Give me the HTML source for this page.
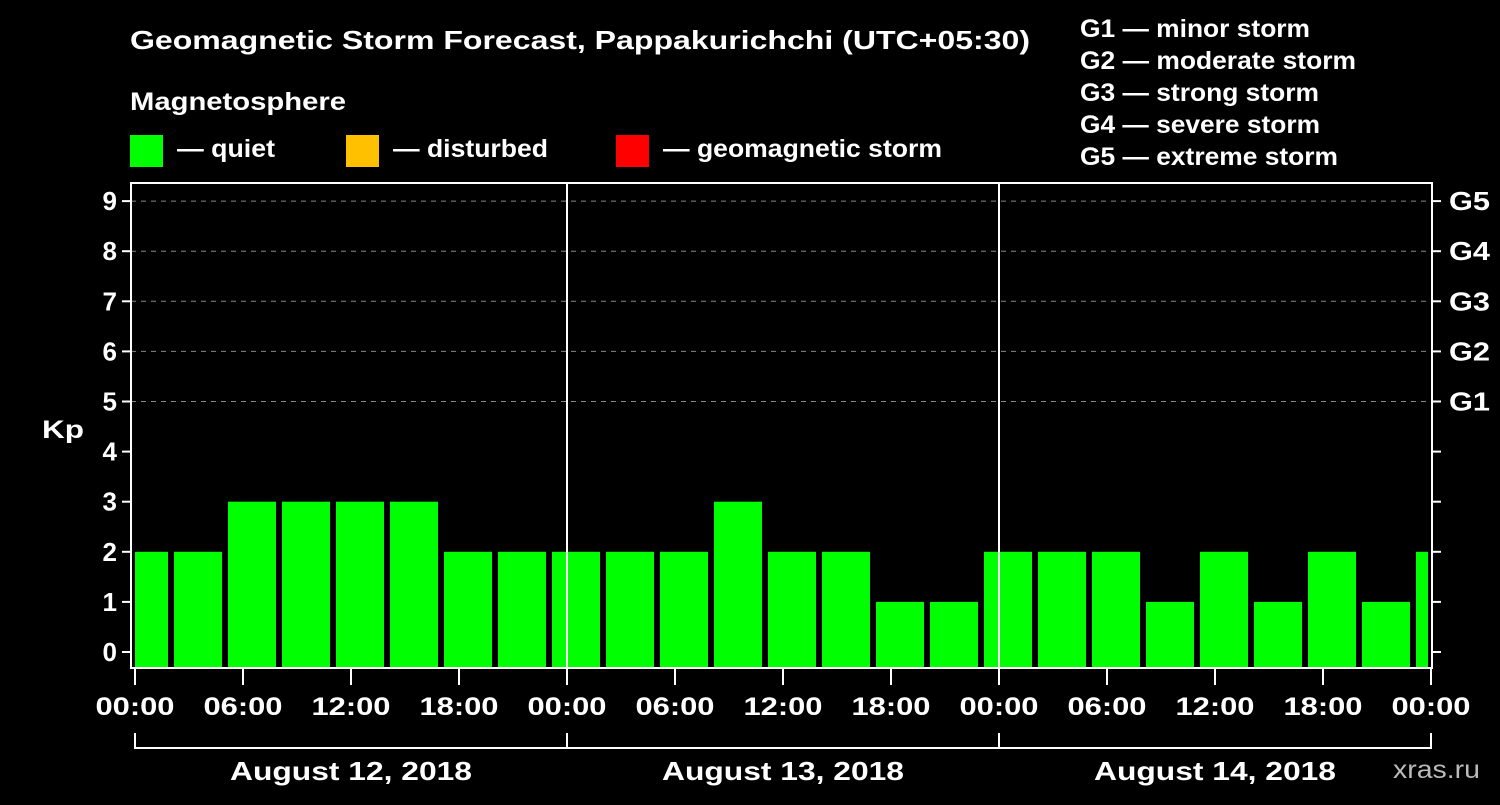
<!DOCTYPE html>
<html><head><meta charset="utf-8"><style>
body{margin:0;background:#000;width:1500px;height:800px;overflow:hidden}
text{font-family:"Liberation Sans",Arial,sans-serif;font-weight:bold;fill:#fff}
</style></head><body>
<svg id="chart" width="1500" height="800" xmlns="http://www.w3.org/2000/svg">
<rect width="1500" height="800" fill="#000"/>
<text x="130" y="49" font-size="26" textLength="900" lengthAdjust="spacingAndGlyphs">Geomagnetic Storm Forecast, Pappakurichchi (UTC+05:30)</text>
<text x="130" y="110" font-size="25" textLength="216" lengthAdjust="spacingAndGlyphs">Magnetosphere</text>
<rect x="130" y="135" width="33" height="32" fill="#00ff00"/>
<text x="177" y="157" font-size="25" textLength="98" lengthAdjust="spacingAndGlyphs">— quiet</text>
<rect x="346" y="135" width="33" height="32" fill="#ffc000"/>
<text x="393" y="157" font-size="25" textLength="155" lengthAdjust="spacingAndGlyphs">— disturbed</text>
<rect x="616" y="135" width="33" height="32" fill="#ff0000"/>
<text x="663" y="157" font-size="25" textLength="279" lengthAdjust="spacingAndGlyphs">— geomagnetic storm</text>
<g font-size="25">
<text x="1080" y="37" textLength="230" lengthAdjust="spacingAndGlyphs">G1 — minor storm</text>
<text x="1080" y="69" textLength="276" lengthAdjust="spacingAndGlyphs">G2 — moderate storm</text>
<text x="1080" y="101" textLength="239" lengthAdjust="spacingAndGlyphs">G3 — strong storm</text>
<text x="1080" y="133" textLength="240" lengthAdjust="spacingAndGlyphs">G4 — severe storm</text>
<text x="1080" y="165" textLength="258" lengthAdjust="spacingAndGlyphs">G5 — extreme storm</text>
</g>
<text x="42" y="438" font-size="25" textLength="42" lengthAdjust="spacingAndGlyphs">Kp</text>
<text x="1393" y="778" font-size="25" textLength="87" lengthAdjust="spacingAndGlyphs" style="fill:#bbb;font-weight:normal">xras.ru</text>
<g id="plot"></g>
</svg>
<script>
const kpValues=[2,2,3,3,3,3,2,2,2,2,2,3,2,2,1,1,2,2,2,1,2,1,2,1,2];
const yTicks=[0,1,2,3,4,5,6,7,8,9];
const gLabels=["G1","G2","G3","G4","G5"];
const gLevels=[5,6,7,8,9];
const xTickLabels=["00:00","06:00","12:00","18:00","00:00","06:00","12:00","18:00","00:00","06:00","12:00","18:00","00:00"];
const dayLabels=["August 12, 2018","August 13, 2018","August 14, 2018"];
const firstBarStartHour=-1;
const NS="http://www.w3.org/2000/svg";
const L=131,R=1432,T=183,B=668;
const x0=135,pxPerHour=18;
function xs(h){return x0+h*pxPerHour;}
function ys(k){return 652-k*50.1;}
const g=document.getElementById('plot');
function mk(tag,attrs){const e=document.createElementNS(NS,tag);for(const k in attrs)e.setAttribute(k,attrs[k]);g.appendChild(e);return e;}
yTicks.forEach(k=>{if(k>=5){const e=mk('line',{x1:L,x2:R,y1:ys(k),y2:ys(k),stroke:'#888','stroke-dasharray':'5,5','stroke-width':1});

}});
kpValues.forEach((v,i)=>{const h0=firstBarStartHour+i*3;let a=xs(h0)+3,b=xs(h0+3)-3;a=Math.max(a,L+4);b=Math.min(b,R-4);
const col=v>=5?'#ff0000':(v>=4?'#ffc000':'#00ff00');
const r=mk('rect',{x:a,y:ys(v),width:b-a,height:B-ys(v),fill:col});

});
[1,2].forEach(d=>{const e=mk('line',{x1:xs(d*24),x2:xs(d*24),y1:T,y2:B,stroke:'#fff','stroke-width':2});

});
const f=mk('rect',{x:L,y:T,width:R-L,height:B-T,fill:'none',stroke:'#fff','stroke-width':2});


yTicks.forEach(k=>{const y=ys(k);
mk('line',{x1:L-9,x2:L,y1:y,y2:y,stroke:'#fff','stroke-width':2});
mk('line',{x1:R,x2:R+9,y1:y,y2:y,stroke:'#fff','stroke-width':2});
const t=mk('text',{x:117,y:y+9,'font-size':26,'text-anchor':'end'});t.textContent=k;

});
gLevels.forEach((k,i)=>{const t=mk('text',{x:1449,y:ys(k)+9,'font-size':26,textLength:41,lengthAdjust:'spacingAndGlyphs'});t.textContent=gLabels[i];

});
xTickLabels.forEach((s,i)=>{const x=xs(i*6);
mk('line',{x1:x,x2:x,y1:B,y2:B+17,stroke:'#fff','stroke-width':2});
const t=mk('text',{x:x,y:715,'font-size':25,'text-anchor':'middle',textLength:79,lengthAdjust:'spacingAndGlyphs'});t.textContent=s;

});
mk('line',{x1:xs(0),x2:xs(72),y1:748,y2:748,stroke:'#fff','stroke-width':2});
[0,1,2,3].forEach(d=>mk('line',{x1:xs(d*24),x2:xs(d*24),y1:733,y2:749,stroke:'#fff','stroke-width':2}));
dayLabels.forEach((s,i)=>{const t=mk('text',{x:xs(i*24+12),y:780,'font-size':26,'text-anchor':'middle',textLength:242,lengthAdjust:'spacingAndGlyphs'});t.textContent=s;

});
</script>
</body></html>
